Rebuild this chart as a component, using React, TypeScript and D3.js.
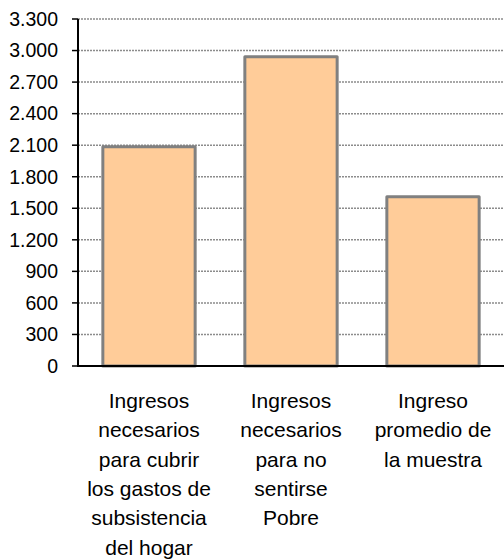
import React from "react";
import * as d3 from "d3";

const categories = ["c1", "c2", "c3"];
const labelLines = [
  ["Ingresos", "necesarios", "para cubrir", "los gastos de", "subsistencia", "del hogar"],
  ["Ingresos", "necesarios", "para no", "sentirse", "Pobre"],
  ["Ingreso", "promedio de", "la muestra"],
];
const values = [2085, 2940, 1610];
const yTicks = [0, 300, 600, 900, 1200, 1500, 1800, 2100, 2400, 2700, 3000, 3300];

const W = 504;
const H = 559;
const left = 78;
const right = 504;
const top = 19;
const bottom = 366;

export default function App() {
  const x = d3.scaleBand().domain(categories).range([left, right]).paddingInner(0.35).paddingOuter(0.175);
  const y = d3.scaleLinear().domain([0, 3300]).range([bottom, top]);
  const fmt = (v: number) => d3.format(",")(v).replace(/,/g, ".");
  return (
    <svg width={W} height={H} style={{ position: "absolute", left: 0, top: 0, fontFamily: "'Liberation Sans', Arial, sans-serif" }}>
      <rect x={0} y={0} width={W} height={H} fill="#fff" />
      {yTicks.filter((t) => t > 0).map((t) => (
        <line key={"g" + t} x1={left} x2={right} y1={y(t)} y2={y(t)} stroke="#8c8c8c" strokeWidth={1.5} strokeDasharray="2,1" />
      ))}
      {values.map((v, i) => (
        <rect
          key={i}
          x={x(categories[i])!}
          y={y(v)}
          width={x.bandwidth()}
          height={bottom - y(v)}
          fill="#FFCC99"
          stroke="#808080"
          strokeWidth={3}
          strokeLinejoin="round"
        />
      ))}
      <line x1={left} x2={left} y1={top} y2={bottom} stroke="#000" strokeWidth={2} />
      <line x1={left - 1} x2={right} y1={bottom} y2={bottom} stroke="#000" strokeWidth={2} />
      {yTicks.map((t) => (
        <g key={"t" + t}>
          <line x1={left - 6} x2={left} y1={y(t)} y2={y(t)} stroke="#000" strokeWidth={1.5} />
          <text x={58} y={y(t)} dy="0.35em" textAnchor="end" fontSize={19.5} fill="#000">
            {fmt(t)}
          </text>
        </g>
      ))}
      {labelLines.map((lines, i) => (
        <text key={"l" + i} textAnchor="middle" fontSize={21} fill="#000">
          {lines.map((ln, j) => (
            <tspan key={j} x={x(categories[i])! + x.bandwidth() / 2} y={408 + j * 29.3}>
              {ln}
            </tspan>
          ))}
        </text>
      ))}
    </svg>
  );
}
